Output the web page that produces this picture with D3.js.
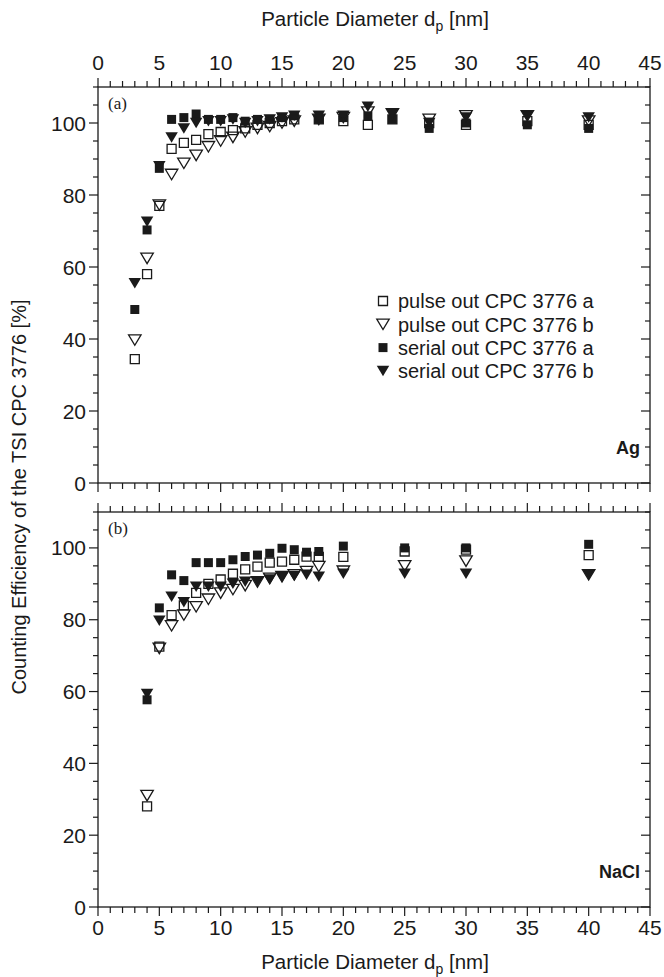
<!DOCTYPE html>
<html>
<head>
<meta charset="utf-8">
<script src="https://cdn.jsdelivr.net/npm/d3@7"></script>
<style>
  html, body { margin: 0; padding: 0; background: #fff; }
  svg { display: block; }
  text { font-family: "Liberation Sans", Arial, sans-serif; fill: #1a1a1a; }
</style>
</head>
<body>
<svg id="chart" width="664" height="977"></svg>
<script>
// ---------- data ----------
const xTicks = [0, 5, 10, 15, 20, 25, 30, 35, 40, 45];
const yTicks = [0, 20, 40, 60, 80, 100];

const xAg = [3, 4, 5, 6, 7, 8, 9, 10, 11, 12, 13, 14, 15, 16, 18, 20, 22, 24, 27, 30, 35, 40];
const agPulseA  = [34.4, 58, 77, 92.8, 94.5, 95.3, 96.9, 97.5, 98, 98.5, 99.5, 100, 100.5, 101, 101, 100.5, 99.5, 101, 100, 99.5, 100.5, 99.5];
const agPulseB  = [39.7, 62.4, 77.2, 85.7, 88.8, 91, 93.4, 95, 96, 97.5, 98.5, 99, 100, 100.5, 101, 101.5, 103, 102.5, 101, 102, 102, 100.5];
const agSerialA = [48.2, 70.3, 87.4, 101, 101.5, 102.5, 101, 101, 101.5, 100.5, 101, 101, 101.5, 102, 101, 101.5, 102, 101, 98.5, 100, 99.5, 98.5];
const agSerialB = [55.5, 72.6, 88, 96, 98.5, 100, 100.5, 100.5, 101, 100, 100.5, 101, 101.5, 102, 102, 102, 104.5, 102.5, 100, 101.5, 102, 101.5];

const xNaCl = [4, 5, 6, 7, 8, 9, 10, 11, 12, 13, 14, 15, 16, 17, 18, 20, 25, 30, 40];
const naclPulseA  = [28, 72.5, 81.3, 84, 87.5, 90, 91.2, 92.8, 94, 94.8, 95.9, 96.2, 96.7, 97.6, 97.5, 97.5, 99, 99.5, 98];
const naclPulseB  = [31, 72, 78.3, 81.3, 83.6, 85.7, 87.4, 88.4, 89.5, 90.5, 91.5, 92, 92.5, 93.4, 94.8, 93.5, 95, 96.3, 92.5];
const naclSerialA = [57.7, 83.3, 92.5, 90.9, 95.9, 95.9, 95.9, 96.7, 97.6, 98, 98.5, 99.9, 99.5, 98.8, 99, 100.5, 100, 100, 101];
const naclSerialB = [59.3, 79.7, 86.4, 84.9, 89.2, 89.2, 89.2, 90, 90.6, 90.6, 91.2, 91.8, 92.2, 92.5, 92, 92.8, 92.8, 92.8, 92.5];

const seriesNames = ["pulse out CPC 3776 a", "pulse out CPC 3776 b", "serial out CPC 3776 a", "serial out CPC 3776 b"];

// ---------- layout ----------
const svg = d3.select("#chart");
const left = 98, right = 650;
const panels = [
  { top: 87, bottom: 483, label: "(a)", mat: "Ag", xs: xAg,
    series: [agSerialA, agSerialB, agPulseA, agPulseB], topAxis: true },
  { top: 512, bottom: 907, label: "(b)", mat: "NaCl", xs: xNaCl,
    series: [naclSerialA, naclSerialB, naclPulseA, naclPulseB], topAxis: false }
];
const x = d3.scaleLinear().domain([0, 45]).range([left, right]);

const sq = 9, triW = 12.5, triH = 10.5;
const symSquare = `M${-sq/2},${-sq/2}H${sq/2}V${sq/2}H${-sq/2}Z`;
const symTri = `M${-triW/2},${-triH/2}L${triW/2},${-triH/2}L0,${triH/2}Z`;
// order drawn: serial a, serial b, pulse a, pulse b
const styles = [
  { d: symSquare, fill: "#1a1a1a", stroke: "none" },
  { d: symTri, fill: "#1a1a1a", stroke: "none" },
  { d: symSquare, fill: "none", stroke: "#1a1a1a" },
  { d: symTri, fill: "none", stroke: "#1a1a1a" }
];
const legendStyleIdx = [2, 3, 0, 1];

const minor5 = d3.range(0, 111, 5);
const minorX = d3.range(0, 46, 1);
const FS = 21;

function axisTitle(yPos) {
  const t = svg.append("text").attr("x", 375).attr("y", yPos).attr("text-anchor", "middle").attr("font-size", 20.5);
  t.append("tspan").text("Particle Diameter d");
  t.append("tspan").attr("font-size", 14).attr("dy", 5).text("p");
  t.append("tspan").attr("dy", -5).text(" [nm]");
}

panels.forEach((p, pi) => {
  const y = d3.scaleLinear().domain([0, 110]).range([p.bottom, p.top]);
  const g = svg.append("g");

  g.append("rect").attr("x", left).attr("y", p.top).attr("width", right - left)
    .attr("height", p.bottom - p.top).attr("fill", "none").attr("stroke", "#1a1a1a").attr("stroke-width", 1.3);

  g.selectAll(".ytl").data(minor5).join("line")
    .attr("x1", d => left - (d % 20 === 0 ? 9 : 5)).attr("x2", left)
    .attr("y1", d => y(d)).attr("y2", d => y(d))
    .attr("stroke", "#1a1a1a").attr("stroke-width", 1.2);
  g.selectAll(".ytr").data(minor5).join("line")
    .attr("x1", d => right - (d % 20 === 0 ? 9 : 5)).attr("x2", right)
    .attr("y1", d => y(d)).attr("y2", d => y(d))
    .attr("stroke", "#1a1a1a").attr("stroke-width", 1.2);
  g.selectAll(".ylab").data(yTicks).join("text")
    .attr("x", left - 12).attr("y", d => y(d)).attr("dy", "0.36em")
    .attr("text-anchor", "end").attr("font-size", FS).text(d => d);

  g.selectAll(".xtt").data(minorX).join("line")
    .attr("x1", d => x(d)).attr("x2", d => x(d))
    .attr("y1", p.top).attr("y2", d => p.top - (d % 5 === 0 ? 9 : 6))
    .attr("stroke", "#1a1a1a").attr("stroke-width", 1.2);
  g.selectAll(".xtb").data(minorX).join("line")
    .attr("x1", d => x(d)).attr("x2", d => x(d))
    .attr("y1", p.bottom).attr("y2", d => p.bottom + (d % 5 === 0 ? 9 : 6))
    .attr("stroke", "#1a1a1a").attr("stroke-width", 1.2);

  if (p.topAxis) {
    g.selectAll(".xlt").data(xTicks).join("text")
      .attr("x", d => x(d)).attr("y", p.top - 17)
      .attr("text-anchor", "middle").attr("font-size", FS).text(d => d);
    axisTitle(26);
  } else {
    g.selectAll(".xlb").data(xTicks).join("text")
      .attr("x", d => x(d)).attr("y", p.bottom + 28)
      .attr("text-anchor", "middle").attr("font-size", FS).text(d => d);
    axisTitle(969);
  }

  g.append("text").attr("x", 108).attr("y", p.top + 22)
    .style("font-family", "'Liberation Serif', 'Times New Roman', serif")
    .attr("font-size", 17).text(p.label);
  g.append("text").attr("x", 640).attr("y", p.bottom - 29)
    .attr("text-anchor", "end").attr("font-size", 18).attr("font-weight", "bold").text(p.mat);

  p.series.forEach((vals, si) => {
    const st = styles[si];
    g.selectAll(null).data(p.xs.map((xv, i) => [xv, vals[i]])).join("path")
      .attr("d", st.d)
      .attr("transform", d => `translate(${x(d[0])},${y(d[1])})`)
      .attr("fill", st.fill).attr("stroke", st.stroke).attr("stroke-width", 1.3);
  });

  if (pi === 0) {
    const lg = g.append("g");
    seriesNames.forEach((name, i) => {
      const st = styles[legendStyleIdx[i]];
      const ly = 301 + i * 23.3;
      lg.append("path").attr("d", st.d).attr("transform", `translate(383,${ly})`)
        .attr("fill", st.fill).attr("stroke", st.stroke).attr("stroke-width", 1.3);
      lg.append("text").attr("x", 398).attr("y", ly).attr("dy", "0.36em")
        .attr("font-size", 20).text(name);
    });
  }
});

svg.append("text").attr("transform", "translate(26,497) rotate(-90)")
  .attr("text-anchor", "middle").attr("font-size", 20)
  .text("Counting Efficiency of the TSI CPC 3776 [%]");
</script>
</body>
</html>
